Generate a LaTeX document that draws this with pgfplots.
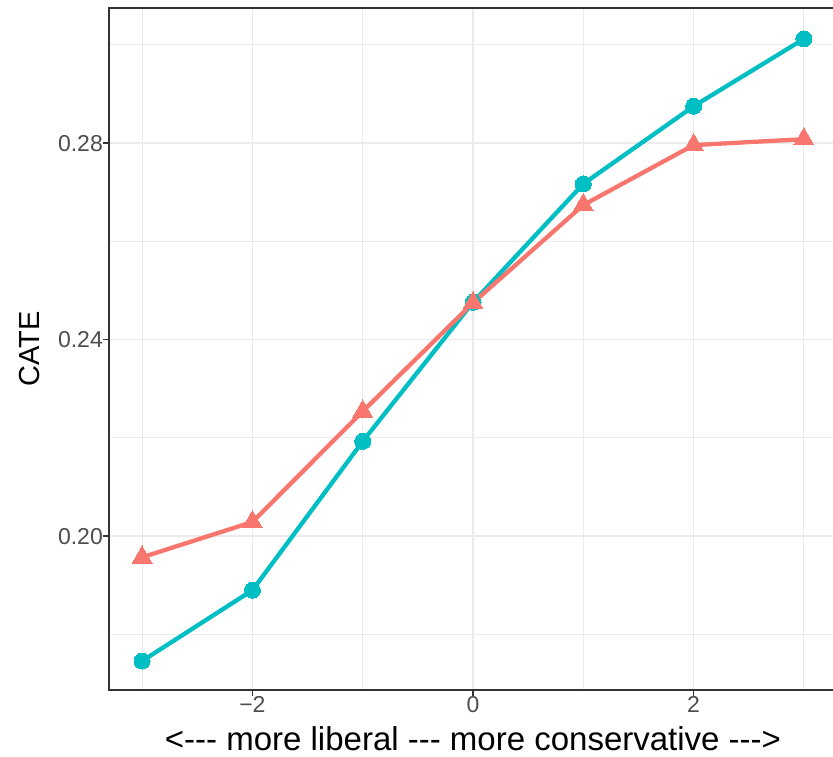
\documentclass[border=0pt]{standalone}
\usepackage{fontspec}
\setmainfont{Liberation Sans}
\usepackage{pgfplots}
\pgfplotsset{compat=1.18}
\definecolor{ggteal}{HTML}{00BFC4}
\definecolor{ggred}{HTML}{F8766D}
\definecolor{gridc}{HTML}{EBEBEB}
\definecolor{grey20}{HTML}{333333}
\definecolor{grey30}{HTML}{4D4D4D}
\begin{document}
\begin{tikzpicture}
\begin{axis}[name=ax, scale only axis, width=728pt, height=682pt,
  xmin=-3.3, xmax=3.3, ymin=0.1687, ymax=0.3075,
  xtick={-2,0,2}, xticklabels={−2,0,2},
  ytick={0.20,0.24,0.28}, yticklabels={0.20,0.24,0.28},
  minor xtick={-3,-1,1,3}, minor ytick={0.18,0.22,0.26,0.30},
  grid=both,
  major grid style={color=gridc, line width=1.6pt},
  minor grid style={color=gridc, line width=0.9pt},
  axis line style={color=grey20, line width=2.2pt},
  tick align=outside, tick pos=left,
  major tick length=6pt, minor tick length=0pt,
  every tick/.style={color=grey20, line width=1.6pt},
  tick label style={font=\fontsize{23}{23}\selectfont, text=grey30, inner sep=0pt},
  xticklabel style={anchor=north},
  yticklabel style={anchor=east},
  xlabel={<{-}{-}{-} more liberal {-}{-}{-} more conservative {-}{-}{-}>},
  ylabel={CATE},
  xlabel style={at={(axis description cs:0.5,-0.0535)}, anchor=north, inner sep=0pt, font=\fontsize{33}{33}\selectfont},
  ylabel style={at={(axis description cs:-0.1085,0.5)}, anchor=center, inner sep=0pt, font=\fontsize{29}{29}\selectfont},
]
\addplot[ggteal, line width=4.3pt, mark=*, mark size=8pt, mark options={solid, fill=ggteal, draw=ggteal, line width=0pt}] coordinates {
(-3,0.1746) (-2,0.1890) (-1,0.2193) (0,0.2476) (1,0.2717) (2,0.2875) (3,0.3012)};
\addplot[ggred, line width=4.3pt, mark=triangle*, mark size=11.5pt, mark options={solid, fill=ggred, draw=ggred, line width=0pt}] coordinates {
(-3,0.1957) (-2,0.2029) (-1,0.2254) (0,0.2475) (1,0.2674) (2,0.2796) (3,0.2808)};
\end{axis}
\pgfresetboundingbox
\path ([xshift=-109pt,yshift=-67pt]ax.south west) rectangle ([xshift=-4pt,yshift=8pt]ax.north east);
\end{tikzpicture}
\end{document}
